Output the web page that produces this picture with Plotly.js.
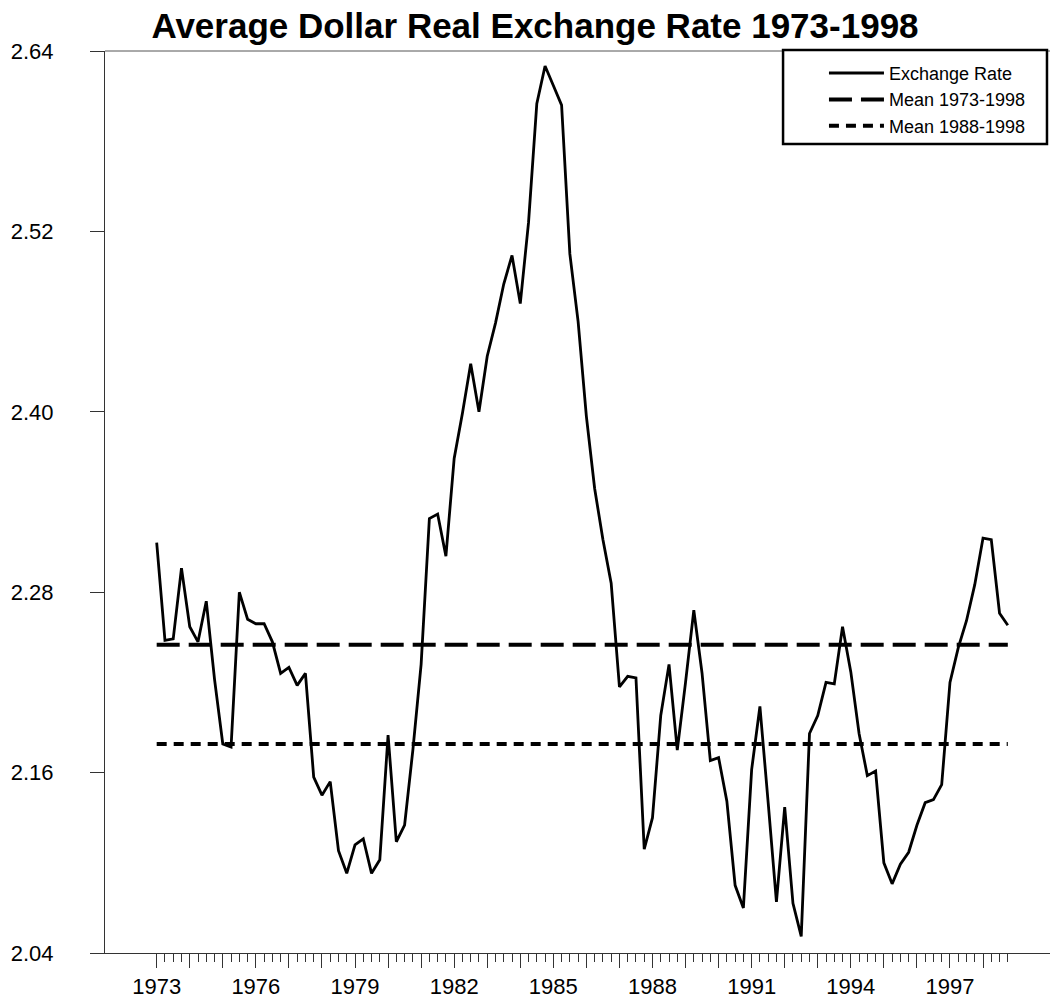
<!DOCTYPE html>
<html><head><meta charset="utf-8">
<script src="https://cdn.plot.ly/plotly-3.0.1.min.js"></script>
<style>html,body{margin:0;padding:0;background:#fff;overflow:hidden}#chart{width:1062px;height:999px}</style>
</head><body><div id="chart"></div>
<script>
const chartTitle = 'Average Dollar Real Exchange Rate 1973-1998';
const seriesNames = ['Exchange Rate', 'Mean 1973-1998', 'Mean 1988-1998'];
const firstYear = 1973;
const quartersPerYear = 4;
// quarterly values, 1973 Q1 .. 1998 Q4
const exchangeRate = [
  2.313, 2.248, 2.249, 2.296, 2.257, 2.247, 2.274, 2.222,
  2.179, 2.177, 2.280, 2.262, 2.259, 2.259, 2.247, 2.226,
  2.230, 2.218, 2.226, 2.157, 2.145, 2.154, 2.108, 2.093,
  2.112, 2.116, 2.093, 2.102, 2.185, 2.114, 2.125, 2.175,
  2.232, 2.329, 2.332, 2.304, 2.369, 2.399, 2.432, 2.400,
  2.437, 2.459, 2.485, 2.504, 2.472, 2.526, 2.605, 2.630,
  2.617, 2.604, 2.505, 2.460, 2.397, 2.349, 2.315, 2.286,
  2.217, 2.224, 2.223, 2.109, 2.130, 2.198, 2.232, 2.175,
  2.220, 2.268, 2.226, 2.168, 2.170, 2.141, 2.085, 2.070,
  2.162, 2.204, 2.140, 2.074, 2.137, 2.073, 2.051, 2.186,
  2.198, 2.220, 2.219, 2.257, 2.227, 2.186, 2.158, 2.161,
  2.100, 2.086, 2.099, 2.107, 2.125, 2.140, 2.142, 2.152,
  2.220, 2.243, 2.261, 2.285, 2.316, 2.315, 2.266, 2.258
];
const meanAll = 2.245;      // Mean 1973-1998
const meanRecent = 2.179;   // Mean 1988-1998
const yTickVals = [2.04, 2.16, 2.28, 2.40, 2.52, 2.64];
const xYearTicks = [1973,1974,1975,1976,1977,1978,1979,1980,1981,1982,1983,1984,1985,
                    1986,1987,1988,1989,1990,1991,1992,1993,1994,1995,1996,1997,1998];
const xYearLabels = ['1973','','','1976','','','1979','','','1982','','','1985',
                     '','','1988','','','1991','','','1994','','','1997',''];

const quarters = exchangeRate.map((_, i) => firstYear + i / quartersPerYear);
const minorTicks = quarters.filter(q => !Number.isInteger(q));
const xSpan = [quarters[0], quarters[quarters.length - 1]];

const font = 'Arial, "Liberation Sans", sans-serif';
const axisColor = '#333';

const traces = [
  {x: quarters, y: exchangeRate, type: 'scatter', mode: 'lines', name: seriesNames[0],
   line: {color: '#000', width: 2.8}},
  {x: xSpan, y: [meanAll, meanAll], type: 'scatter', mode: 'lines', name: seriesNames[1],
   line: {color: '#000', width: 4, dash: '23px,9px'}},
  {x: xSpan, y: [meanRecent, meanRecent], type: 'scatter', mode: 'lines', name: seriesNames[2],
   line: {color: '#000', width: 4, dash: '10px,7px'}}
];

const layout = {
  width: 1062, height: 999,
  margin: {l: 105, r: 10, t: 51, b: 46, pad: 0},
  paper_bgcolor: '#fff', plot_bgcolor: '#fff',
  font: {family: font, color: '#000'},
  title: {text: '<b>' + chartTitle + '</b>', font: {family: font, size: 35, color: '#000'},
          x: 535 / 1062, xanchor: 'center', xref: 'container',
          y: 1 - 26 / 999, yanchor: 'middle', yref: 'container'},
  showlegend: true,
  legend: {x: 0.7592, xanchor: 'left', y: 0.9958, yanchor: 'top',
           bgcolor: 'rgba(0,0,0,0)', borderwidth: 0, itemwidth: 55,
           font: {family: font, size: 18, color: '#000'}},
  xaxis: {range: [1971.436, 2000.087], showgrid: false, zeroline: false,
          showline: true, linecolor: axisColor, linewidth: 1, mirror: false,
          tickmode: 'array', tickvals: xYearTicks, ticktext: xYearLabels,
          ticks: 'outside', ticklen: 14, tickwidth: 1, tickcolor: axisColor,
          tickfont: {family: font, size: 22, color: '#000'},
          minor: {tickmode: 'array', tickvals: minorTicks, ticks: 'outside', ticklen: 8,
                  tickwidth: 1, tickcolor: axisColor, showgrid: false}},
  yaxis: {range: [2.04, 2.64], showgrid: false, zeroline: false,
          showline: true, linecolor: axisColor, linewidth: 1, mirror: false,
          tickmode: 'array', tickvals: yTickVals, tickformat: '.2f',
          ticks: 'outside', ticklen: 14, tickwidth: 1, tickcolor: axisColor,
          ticklabelstandoff: 32,
          tickfont: {family: font, size: 22, color: '#000'}},
  shapes: [
    {type: 'line', xref: 'paper', yref: 'paper', x0: 0, x1: 1, y0: 1, y1: 1,
     line: {color: '#555', width: 1}},
    {type: 'rect', xref: 'paper', yref: 'paper', x0: 0.716, x1: 0.9947, y0: 0.8969, y1: 1.0011,
     line: {color: '#000', width: 2.5}, fillcolor: '#fff'}
  ]
};

Plotly.newPlot('chart', traces, layout, {displayModeBar: false, staticPlot: true});
</script>
</body></html>
